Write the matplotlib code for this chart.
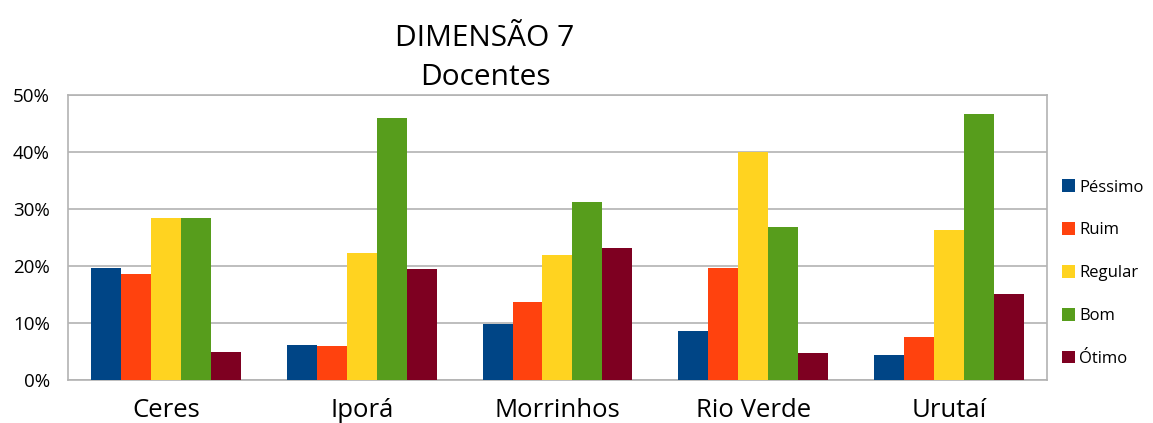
import matplotlib
matplotlib.use("Agg")
import matplotlib.pyplot as plt
import numpy as np
from matplotlib.ticker import PercentFormatter

plt.rcParams["font.family"] = ["Open Sans", "DejaVu Sans"]

campus = ["Ceres", "Iporá", "Morrinhos", "Rio Verde", "Urutaí"]
series = ["Péssimo", "Ruim", "Regular", "Bom", "Ótimo"]
pessimo = [19.6, 6.1, 9.9, 8.6, 4.3]
ruim = [18.6, 5.9, 13.6, 19.6, 7.6]
regular = [28.4, 22.3, 22.0, 40.0, 26.3]
bom = [28.4, 46.0, 31.2, 26.8, 46.6]
otimo = [4.9, 19.4, 23.1, 4.8, 15.0]
colors = ["#004586", "#ff420e", "#ffd320", "#579d1c", "#7e0021"]

fig = plt.figure(figsize=(11.53, 4.23), dpi=100)
ax = fig.add_axes([0.059, 0.1017, 0.849, 0.6737])

x = np.arange(len(campus))
w = 0.153
for i, (name, vals) in enumerate(zip(series, [pessimo, ruim, regular, bom, otimo])):
    ax.bar(x + (i - 2) * w, vals, w, color=colors[i], label=name, zorder=3)

ax.set_xlim(-0.5, len(campus) - 0.5)
ax.set_ylim(0, 50)
ax.set_yticks(range(0, 51, 10))
ax.yaxis.set_major_formatter(PercentFormatter(decimals=0))
ax.set_xticks(x)
ax.set_xticklabels(campus, fontsize=18.5)
ax.tick_params(axis="y", labelsize=13.5, length=0, pad=13)
ax.tick_params(axis="x", length=0, pad=13)
ax.grid(axis="y", color="#b3b3b3", linewidth=1.2, zorder=0)
for s in ax.spines.values():
    s.set_color("#b3b3b3")
    s.set_linewidth(1.2)

ax.text(0.426, 1.20, "DIMENSÃO 7", transform=ax.transAxes, ha="center", va="center", fontsize=21.5)
ax.text(0.426, 1.06, "Docentes", transform=ax.transAxes, ha="center", va="center", fontsize=21.5)

ax.legend(loc="center left", bbox_to_anchor=(1.0, 0.375), frameon=False, fontsize=12,
          handlelength=0.8, handleheight=0.8, handletextpad=0.25, labelspacing=1.6,
          borderaxespad=0.5)

fig.savefig("out.png", dpi=100)
